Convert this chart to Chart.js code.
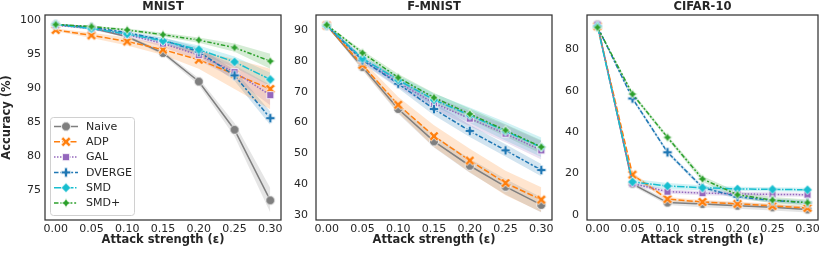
<!DOCTYPE html>
<html>
<head>
<meta charset="utf-8">
<script src="https://cdn.jsdelivr.net/npm/chart.js@4.4.1/dist/chart.umd.min.js"></script>
<style>
    html, body { margin: 0; padding: 0; background: #fff; }
    #wrap { position: relative; width: 824px; height: 256px; }
    #wrap canvas { position: absolute; left: 0; top: 0; }
</style>
</head>
<body>
<div id="wrap">
    <canvas id="mnistChart" width="824" height="256"></canvas>
    <canvas id="fmnistChart" width="824" height="256"></canvas>
    <canvas id="cifarChart" width="824" height="256"></canvas>
</div>
<script>
// x values (attack strength) and method names
const eps = [0, 0.05, 0.10, 0.15, 0.20, 0.25, 0.30];
const methods = ['Naive', 'ADP', 'GAL', 'DVERGE', 'SMD', 'SMD+'];

// MNIST accuracy (%) per method, and half-width of the shaded band
const mnistAcc = [
    [99.4, 98.9, 97.6, 95.2, 91.0, 83.9, 73.5],
    [98.6, 97.8, 96.9, 95.7, 94.2, 92.1, 89.9],
    [99.3, 98.8, 97.9, 96.6, 94.9, 92.4, 89.0],
    [99.4, 99.0, 98.2, 97.1, 95.4, 91.9, 85.6],
    [99.4, 98.8, 98.0, 97.0, 95.7, 93.9, 91.3],
    [99.4, 99.1, 98.6, 97.9, 97.1, 96.0, 94.0]
];
const mnistBand = [
    [0.1, 0.15, 0.2, 0.3, 0.5, 1.0, 1.8],
    [0.2, 0.4, 0.6, 0.8, 1.3, 2.2, 3.0],
    [0.1, 0.2, 0.3, 0.5, 0.8, 1.0, 1.5],
    [0.1, 0.15, 0.2, 0.4, 0.6, 0.8, 1.0],
    [0.1, 0.15, 0.2, 0.4, 0.6, 0.8, 1.0],
    [0.1, 0.1, 0.2, 0.3, 0.4, 0.6, 1.1]
];

// F-MNIST
const fmnistAcc = [
    [91.5, 78.0, 64.4, 53.9, 46.0, 39.2, 33.3],
    [91.5, 78.7, 65.8, 55.6, 47.7, 40.4, 35.0],
    [91.5, 80.5, 73.0, 66.3, 61.3, 56.4, 51.0],
    [91.5, 80.2, 72.6, 64.4, 57.3, 51.0, 44.6],
    [91.5, 80.8, 73.8, 67.4, 62.4, 57.2, 52.0],
    [91.7, 82.6, 74.6, 68.1, 62.8, 57.5, 52.1]
];
const fmnistBand = [
    [0.2, 1.0, 1.5, 2.0, 2.3, 2.5, 2.5],
    [0.2, 1.5, 2.5, 3.5, 3.8, 4.0, 4.0],
    [0.2, 1.0, 1.5, 2.0, 2.5, 2.8, 3.0],
    [0.2, 1.0, 1.5, 2.0, 2.0, 2.0, 2.0],
    [0.2, 0.8, 1.5, 2.0, 2.5, 3.0, 3.2],
    [0.2, 0.8, 1.2, 1.5, 1.8, 2.0, 2.2]
];

// CIFAR-10
const cifarAcc = [
    [92.0, 15.0, 6.0, 5.3, 4.5, 3.7, 2.7],
    [91.2, 19.5, 7.7, 6.3, 5.4, 4.4, 3.4],
    [92.0, 15.2, 11.3, 10.6, 10.2, 10.0, 9.8],
    [91.0, 56.3, 30.3, 13.3, 8.8, 7.0, 6.0],
    [91.0, 16.0, 14.0, 13.2, 12.6, 12.4, 12.2],
    [90.6, 58.4, 37.5, 17.4, 9.8, 7.2, 6.0]
];
const cifarBand = [
    [0.5, 1.0, 1.2, 1.5, 1.5, 1.5, 1.5],
    [0.5, 1.0, 1.0, 1.0, 1.0, 1.0, 1.0],
    [0.5, 1.0, 1.0, 1.0, 1.0, 1.0, 1.0],
    [0.5, 1.0, 1.0, 1.0, 1.0, 1.0, 1.0],
    [0.5, 1.5, 1.5, 1.2, 1.0, 1.0, 1.0],
    [0.5, 1.0, 1.0, 1.5, 1.5, 1.5, 1.5]
];

// tick values
const mnistTicks = [75, 80, 85, 90, 95, 100];
const fmnistTicks = [30, 40, 50, 60, 70, 80, 90];
const cifarTicks = [0, 20, 40, 60, 80];

// styling per method
const colors = ['#7f7f7f', '#ff7f0e', '#9467bd', '#1f77b4', '#17becf', '#2ca02c'];
const shapes = ['circle', 'x', 'square', 'plus', 'diamond', 'star'];
const LW = 1.5;
const dashes = [
    [],
    [4, 1.5],
    [1, 1],
    [3, 1.25, 1.5, 1.25],
    [5, 1, 1, 1],
    [3, 1.25, 1.25, 1.25, 1.25, 1.25]
].map(d => d.map(v => v * LW));

const TEXT = '#262626';
Chart.defaults.font.family = '"DejaVu Sans", sans-serif';
Chart.defaults.color = TEXT;

function rgba(hex, a) {
    const n = parseInt(hex.slice(1), 16);
    return 'rgba(' + (n >> 16) + ',' + ((n >> 8) & 255) + ',' + (n & 255) + ',' + a + ')';
}

// marker images (filled with white edge, like seaborn)
function makeMarker(shape, color) {
    const S = 9.5;
    const c = document.createElement('canvas');
    c.width = 14; c.height = 14;
    const g = c.getContext('2d');
    g.translate(7, 7);
    g.beginPath();
    const h = S / 2;
    function poly(pts, rot) {
        pts.forEach((p, i) => {
            const x = p[0] * Math.cos(rot) - p[1] * Math.sin(rot);
            const y = p[0] * Math.sin(rot) + p[1] * Math.cos(rot);
            if (i === 0) g.moveTo(x, y); else g.lineTo(x, y);
        });
        g.closePath();
    }
    function plusPts(a, t) {
        return [[-t, -a], [t, -a], [t, -t], [a, -t], [a, t], [t, t], [t, a], [-t, a], [-t, t], [-a, t], [-a, -t], [-t, -t]];
    }
    if (shape === 'circle') {
        g.arc(0, 0, h * 0.95, 0, Math.PI * 2);
    } else if (shape === 'x') {
        poly(plusPts(h * 1.15, S / 6), Math.PI / 4);
    } else if (shape === 'square') {
        const s = h * 0.75;
        poly([[-s, -s], [s, -s], [s, s], [-s, s]], 0);
    } else if (shape === 'plus') {
        poly(plusPts(h, S / 6), 0);
    } else if (shape === 'diamond') {
        poly([[0, -h], [h, 0], [0, h], [-h, 0]], 0);
    } else {
        const q = h * 0.5 / Math.SQRT2;
        poly([[0, -h], [q, -q], [h, 0], [q, q], [0, h], [-q, q], [-h, 0], [-q, -q]], 0);
    }
    g.fillStyle = color;
    g.fill();
    g.strokeStyle = '#ffffff';
    g.lineWidth = 0.8;
    g.stroke();
    return c;
}
const markers = methods.map((m, i) => makeMarker(shapes[i], colors[i]));

// frame around plot area on all four sides
const framePlugin = {
    id: 'frame',
    afterDatasetsDraw(chart) {
        const a = chart.chartArea;
        const ctx = chart.ctx;
        ctx.save();
        ctx.strokeStyle = '#333333';
        ctx.lineWidth = 1.25;
        ctx.strokeRect(a.left, a.top, a.right - a.left, a.bottom - a.top);
        ctx.restore();
    }
};

// legend box inside the MNIST panel
const legendPlugin = {
    id: 'boxLegend',
    afterDraw(chart) {
        const ctx = chart.ctx;
        const x0 = 50.5, y0 = 117.5, w = 84, h = 98;
        ctx.save();
        ctx.beginPath();
        ctx.roundRect(x0, y0, w, h, 3);
        ctx.fillStyle = 'rgba(255,255,255,0.8)';
        ctx.fill();
        ctx.strokeStyle = '#d0d0d0';
        ctx.lineWidth = 1;
        ctx.stroke();
        ctx.font = '11px "DejaVu Sans"';
        ctx.textBaseline = 'middle';
        methods.forEach((m, i) => {
            const y = 126.5 + i * 15.3;
            ctx.beginPath();
            ctx.setLineDash(dashes[i]);
            ctx.strokeStyle = colors[i];
            ctx.lineWidth = LW;
            ctx.moveTo(54, y);
            ctx.lineTo(78, y);
            ctx.stroke();
            ctx.setLineDash([]);
            ctx.drawImage(markers[i], 66 - 7, y - 7);
            ctx.fillStyle = TEXT;
            ctx.fillText(m, 86, y + 0.5);
        });
        ctx.restore();
    }
};

function buildChart(id, title, acc, band, yMin, yMax, yTicks, lay) {
    const datasets = [];
    methods.forEach((m, i) => {
        const lo = acc[i].map((v, k) => ({ x: eps[k], y: v - band[i][k] }));
        const hi = acc[i].map((v, k) => ({ x: eps[k], y: v + band[i][k] }));
        datasets.push({ data: lo, borderWidth: 0, pointRadius: 0, fill: false, order: 10 });
        datasets.push({ data: hi, borderWidth: 0, pointRadius: 0, fill: datasets.length - 1,
            backgroundColor: rgba(colors[i], 0.2), order: 10 });
    });
    methods.forEach((m, i) => {
        datasets.push({
            label: m,
            data: acc[i].map((v, k) => ({ x: eps[k], y: v })),
            borderColor: colors[i],
            borderWidth: LW,
            borderDash: dashes[i],
            pointStyle: markers[i],
            pointRadius: 4.5,
            tension: 0,
            fill: false,
            order: 6 - i
        });
    });

    const plugins = [framePlugin];
    if (lay.legend) plugins.push(legendPlugin);

    return new Chart(document.getElementById(id), {
        type: 'line',
        data: { datasets: datasets },
        plugins: plugins,
        options: {
            responsive: false,
            animation: false,
            events: [],
            layout: { padding: { left: lay.left, right: lay.right, top: 0, bottom: 9 } },
            plugins: { legend: { display: false }, tooltip: { enabled: false } },
            scales: {
                x: {
                    type: 'linear',
                    min: -0.015,
                    max: 0.315,
                    afterBuildTicks: s => { s.ticks = eps.map(v => ({ value: v })); },
                    afterFit: s => { s.height = 27; },
                    grid: { display: false, drawTicks: false },
                    border: { display: false },
                    ticks: { padding: 3, font: { size: 11 }, maxRotation: 0, autoSkip: false,
                        callback: v => Number(v).toFixed(2) },
                    title: { display: true, text: 'Attack strength (ε)', padding: 0,
                        font: { size: 11.5, weight: 'bold' } }
                },
                top: {
                    type: 'linear',
                    position: 'top',
                    min: 0, max: 1,
                    afterFit: s => { s.height = 15; },
                    grid: { display: false, drawTicks: false },
                    border: { display: false },
                    ticks: { display: false },
                    title: { display: true, text: title, padding: 0,
                        font: { size: 11.5, weight: 'bold' } }
                },
                y: {
                    type: 'linear',
                    min: yMin,
                    max: yMax,
                    afterBuildTicks: s => { s.ticks = yTicks.map(v => ({ value: v })); },
                    afterFit: s => { s.width = lay.yWidth; },
                    grid: { display: false, drawTicks: false },
                    border: { display: false },
                    ticks: { padding: lay.tickPad, font: { size: 11 } },
                    title: { display: !!lay.yTitle, text: lay.yTitle || '', padding: 0,
                        font: { size: 11.5, weight: 'bold' } }
                }
            }
        }
    });
}

buildChart('mnistChart', 'MNIST', mnistAcc, mnistBand, 70.6, 100.8, mnistTicks,
    { left: 0, right: 543, yWidth: 45, tickPad: 4, yTitle: 'Accuracy (%)', legend: true });
buildChart('fmnistChart', 'F-MNIST', fmnistAcc, fmnistBand, 28.4, 94.9, fmnistTicks,
    { left: 286, right: 272, yWidth: 30, tickPad: 8 });
buildChart('cifarChart', 'CIFAR-10', cifarAcc, cifarBand, -2.4, 96.6, cifarTicks,
    { left: 557, right: 3, yWidth: 30, tickPad: 8 });
</script>
</body>
</html>
